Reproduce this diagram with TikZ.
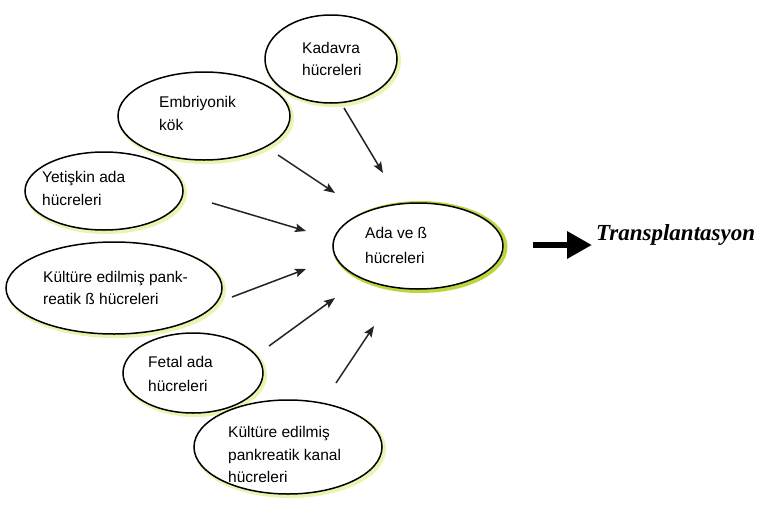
\documentclass[tikz,border=0pt]{standalone}
\usepackage{fontspec}
\setmainfont{Liberation Sans}
\newfontfamily\tserif{Liberation Serif}
\usetikzlibrary{arrows.meta,shapes.geometric}
\definecolor{glowc}{RGB}{236,242,175}
\definecolor{glowada}{RGB}{190,212,60}
\definecolor{arrc}{RGB}{35,35,35}
\tikzset{
  cell/.style={ellipse, draw=black, line width=1.5pt, fill=white, inner sep=0pt},
  glowcell/.style={ellipse, draw=glowc, line width=4pt, inner sep=0pt},
  glowstrong/.style={ellipse, draw=glowada, line width=4pt, inner sep=0pt},
  lbl/.style={anchor=base west, inner sep=0pt, font=\fontsize{15.5}{23}\selectfont},
  thinarrow/.style={draw=arrc, line width=1.5pt, -{Stealth[length=11pt,width=8.5pt,inset=2pt]}},
  bigarrow/.style={draw=black, line width=6.5pt, -{Triangle[length=25pt,width=26pt]}}
}
\begin{document}
\begin{tikzpicture}[x=1pt,y=-1pt]
\useasboundingbox (0,0) rectangle (761,504);
\fill[white] (0,0) rectangle (761,504);

% glows
\node[glowcell, minimum width=132pt, minimum height=88pt] (kadg) at (333,61) {};
\node[glowcell, minimum width=172pt, minimum height=88pt] (embg) at (206,118) {};
\node[glowcell, minimum width=158pt, minimum height=78pt] (yetg) at (106,193) {};
\node[glowcell, minimum width=216pt, minimum height=92pt] (kulg) at (116,290) {};
\node[glowcell, minimum width=140pt, minimum height=80pt] (fetg) at (195,375) {};
\node[glowcell, minimum width=188pt, minimum height=94pt] (kang) at (290,449) {};
\node[glowstrong, minimum width=171pt, minimum height=88pt] (adag) at (420,247) {};

% ellipses
\node[cell, minimum width=132pt, minimum height=88pt] (kad) at (331,59) {};
\node[cell, minimum width=172pt, minimum height=88pt] (emb) at (204,116) {};
\node[cell, minimum width=158pt, minimum height=78pt] (yet) at (104,191) {};
\node[cell, minimum width=216pt, minimum height=92pt] (kul) at (114,288) {};
\node[cell, minimum width=140pt, minimum height=80pt] (fet) at (193,373) {};
\node[cell, minimum width=188pt, minimum height=94pt] (kan) at (288,447) {};
\node[cell, minimum width=170pt, minimum height=86pt] (ada) at (418,246) {};

% labels
\node[lbl] (kadt1) at (302,53) {Kadavra};
\node[lbl] (kadt2) at (302,75) {hücreleri};
\node[lbl] (embt1) at (159,107) {Embriyonik};
\node[lbl] (embt2) at (159,130) {kök};
\node[lbl] (yett1) at (42,182) {Yetişkin ada};
\node[lbl] (yett2) at (42,205) {hücreleri};
\node[lbl] (adat1) at (365,238) {Ada ve ß};
\node[lbl] (adat2) at (365,263) {hücreleri};
\node[lbl] (kult1) at (43,282) {Kültüre edilmiş pank-};
\node[lbl] (kult2) at (43,304) {reatik ß hücreleri};
\node[lbl] (fett1) at (148,367) {Fetal ada};
\node[lbl] (fett2) at (148,391) {hücreleri};
\node[lbl] (kant1) at (228,437) {Kültüre edilmiş};
\node[lbl] (kant2) at (228,460) {pankreatik kanal};
\node[lbl] (kant3) at (228,482) {hücreleri};

% arrow end points
\coordinate (a1s) at (344,108); \coordinate (a1e) at (383,173);
\coordinate (a2s) at (278,155); \coordinate (a2e) at (335,193);
\coordinate (a3s) at (212,203); \coordinate (a3e) at (306,231);
\coordinate (a4s) at (232,297); \coordinate (a4e) at (306,269);
\coordinate (a5s) at (269,346); \coordinate (a5e) at (335,298);
\coordinate (a6s) at (336,383); \coordinate (a6e) at (374,326);
\draw[thinarrow] (a1s) -- (a1e);
\draw[thinarrow] (a2s) -- (a2e);
\draw[thinarrow] (a3s) -- (a3e);
\draw[thinarrow] (a4s) -- (a4e);
\draw[thinarrow] (a5s) -- (a5e);
\draw[thinarrow] (a6s) -- (a6e);

% big arrow and result
\coordinate (bs) at (533,245);
\coordinate (be) at (592,245);
\draw[bigarrow] (bs) -- (be);
\node[anchor=base west, inner sep=0pt, font={\tserif\bfseries\itshape\fontsize{23}{27}\selectfont}] (tr) at (596,240) {Transplantasyon};
\end{tikzpicture}
\end{document}
